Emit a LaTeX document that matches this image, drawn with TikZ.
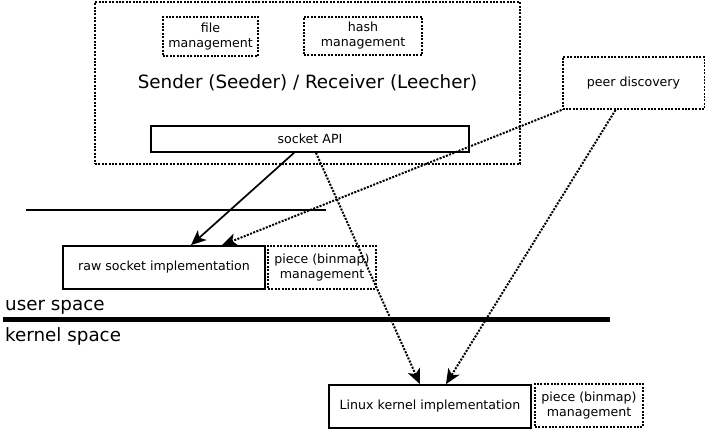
\documentclass[tikz,border=0pt]{standalone}
\usepackage{fontspec}
\setmainfont{DejaVu Sans}
\usetikzlibrary{arrows.meta,calc}
\tikzset{
  solidbox/.style={draw=black,line width=1.7pt,inner sep=0pt,align=center,font=\fontsize{12.6}{15}\selectfont},
  dotbox/.style={draw=black,line width=2pt,dash pattern=on 2pt off 1.4pt,inner sep=0pt,align=center,font=\fontsize{12.6}{15}\selectfont},
  bigtext/.style={inner sep=0pt,font=\fontsize{18.3}{20}\selectfont},
  solidarrow/.style={line width=1.7pt,-{Stealth[length=15pt,width=13pt,inset=4pt]}},
  dotarrow/.style={line width=2pt,dash pattern=on 2pt off 1.4pt,-{Stealth[length=15pt,width=13pt,inset=4pt]}},
}
\begin{document}
\begin{tikzpicture}[x=1pt,y=-1pt]
\useasboundingbox (0,0) rectangle (705,429);
% outer box with title
\node[dotbox,bigtext,minimum width=425pt,minimum height=162pt] (outer) at (307.5,83) {Sender (Seeder) / Receiver (Leecher)};
\node[dotbox,minimum width=95pt,minimum height=39pt] (file) at (210.5,36.5) {file\\management};
\node[dotbox,minimum width=118pt,minimum height=38pt] (hash) at (363,36) {hash\\management};
\node[solidbox,minimum width=318pt,minimum height=26pt] (socket) at (310,139) {socket API};
\node[dotbox,minimum width=142pt,minimum height=52pt] (peer) at (633.5,83) {peer discovery};
\node[solidbox,minimum width=202pt,minimum height=43pt] (raw) at (164,267.5) {raw socket implementation};
\node[dotbox,minimum width=108pt,minimum height=43pt] (piece1) at (322,267.5) {piece (binmap)\\management};
\node[solidbox,minimum width=202pt,minimum height=43pt] (linux) at (430,406.5) {Linux kernel implementation};
\node[dotbox,minimum width=108pt,minimum height=43pt] (piece2) at (589,405.5) {piece (binmap)\\management};
% separator lines
\coordinate (t1) at (26,210);
\coordinate (t2) at (326,210);
\draw[line width=1.7pt] (t1) -- (t2);
\coordinate (k1) at (3,319.5);
\coordinate (k2) at (610,319.5);
\draw[line width=5.5pt] (k1) -- (k2);
\node[bigtext,anchor=base west] (user) at (5,310) {user space};
\node[bigtext,anchor=base west] (kernel) at (5,341) {kernel space};
% arrows
\draw[solidarrow] ($(socket.south)+(-16,0)$) -- ($(raw.north)+(27,0)$);
\draw[dotarrow] (peer.south west) -- ($(raw.north)+(58,0)$);
\draw[dotarrow] ($(socket.south)+(6,0)$) -- ($(linux.north)+(-10,0)$);
\draw[dotarrow] ($(peer.south)+(-18,0)$) -- ($(linux.north)+(16,0)$);
\end{tikzpicture}
\end{document}
